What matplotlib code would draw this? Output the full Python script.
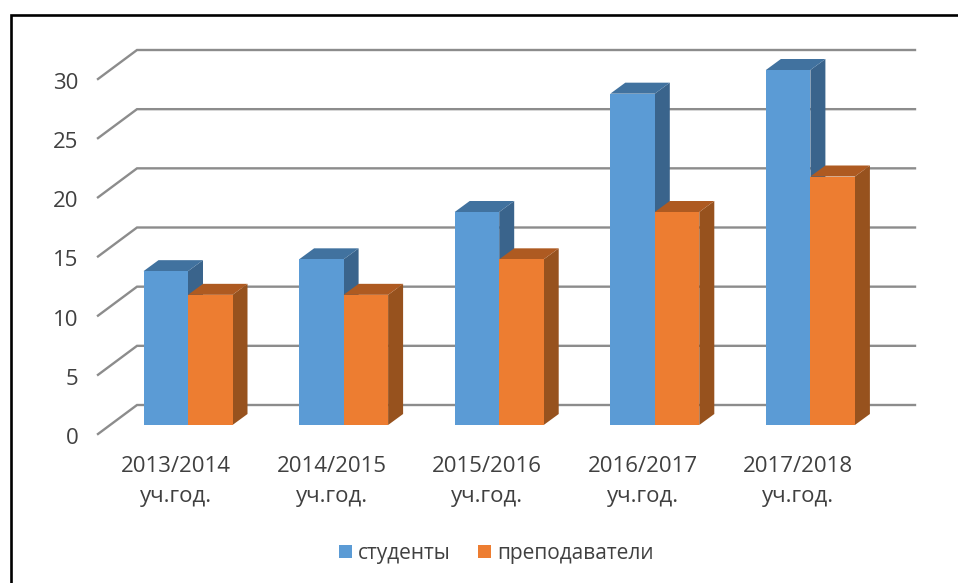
import matplotlib
matplotlib.use("Agg")
import matplotlib.pyplot as plt
import numpy as np
from matplotlib.lines import Line2D
from matplotlib.patches import Patch, Polygon, Rectangle

plt.rcParams['font.family'] = ['Open Sans', 'DejaVu Sans']

years = ["2013/2014\nуч.год.", "2014/2015\nуч.год.", "2015/2016\nуч.год.",
         "2016/2017\nуч.год.", "2017/2018\nуч.год."]
students = [13, 14, 18, 28, 30]
teachers = [11, 11, 14, 18, 21]
yticks = [0, 5, 10, 15, 20, 25, 30]

W, H = 958, 583
# one category = 155.6 px, one value unit = 11.83 px
XU, YU = 155.6, 355 / 30
BAR_W = 44.5 / XU
DX, DY = 15 / XU, 11 / YU
WALL_DY = 20 / YU
DIAG_DY = 9 / YU
X0 = 188  # pixel of first category
Y0 = 425  # pixel of value 0, front
AX_L, AX_R, AX_T, AX_B = 98, 915, 50, 440


def px_x(p):
    return (p - X0) / XU


def px_y(p):
    return (Y0 - p) / YU


def draw_bar(ax, left, val, front, side, top, z):
    r = left + BAR_W
    ax.add_patch(Rectangle((left, 0), BAR_W, val, fc=front, ec='none', zorder=z + 0.2))
    ax.add_patch(Polygon([(r, 0), (r + DX, DY), (r + DX, val + DY), (r, val)],
                         fc=side, ec='none', zorder=z))
    ax.add_patch(Polygon([(left, val), (left + DX, val + DY), (r + DX, val + DY), (r, val)],
                         fc=top, ec='none', zorder=z + 0.1))


def main():
    fig = plt.figure(figsize=(W / 100, H / 100), dpi=100)
    ax = fig.add_axes([AX_L / W, 1 - AX_B / H, (AX_R - AX_L) / W, (AX_B - AX_T) / H])
    for s in ax.spines.values():
        s.set_visible(False)

    # gridlines on the back wall plus the diagonal floor part
    wall_l, wall_r = px_x(137), px_x(915)
    for v in yticks:
        ax.plot([px_x(AX_L), wall_l, wall_r], [v - DIAG_DY, v + WALL_DY, v + WALL_DY],
                color='#8c8c8c', lw=1.7, solid_joinstyle='miter', zorder=1, clip_on=False)

    x = np.arange(len(years))
    for i in x:
        z = 2 + i
        draw_bar(ax, i - BAR_W, students[i], '#5b9bd5', '#3a648c', '#41729f', z)
        draw_bar(ax, i, teachers[i], '#ed7d31', '#97521e', '#ae5a21', z + 0.5)

    # labels sit slightly below the front ends of the diagonals
    ax.set_yticks(np.array(yticks) - DIAG_DY - 2 / YU, labels=[str(v) for v in yticks])
    ax.set_xticks(x - 12 / XU, labels=years)
    ax.tick_params(axis='both', length=0, labelsize=16, labelcolor='#404040')
    ax.tick_params(axis='y', pad=14)
    ax.tick_params(axis='x', pad=11.2)
    for t in ax.get_xticklabels():
        t.set_linespacing(1.58)

    # limits last, set_yticks would widen them otherwise
    ax.set_xlim(px_x(AX_L), px_x(AX_R))
    ax.set_ylim(px_y(AX_B), px_y(AX_T))

    handles = [Patch(fc='#5b9bd5', label='студенты'), Patch(fc='#ed7d31', label='преподаватели')]
    fig.legend(handles=handles, loc='center', bbox_to_anchor=(496 / W, 1 - 553.5 / H), ncol=2,
               frameon=False, fontsize=15, labelcolor='#404040', handlelength=0.62, handleheight=0.62,
               handletextpad=0.3, columnspacing=1.3, borderpad=0)

    # black frame of the screenshot
    fig.add_artist(Line2D([10.7 / W, 10.7 / W, 1], [0, 1 - 14.5 / H, 1 - 14.5 / H],
                          color='black', lw=1.9, solid_joinstyle='miter'))

    fig.savefig('out.png', dpi=100)


if __name__ == "__main__":
    main()
